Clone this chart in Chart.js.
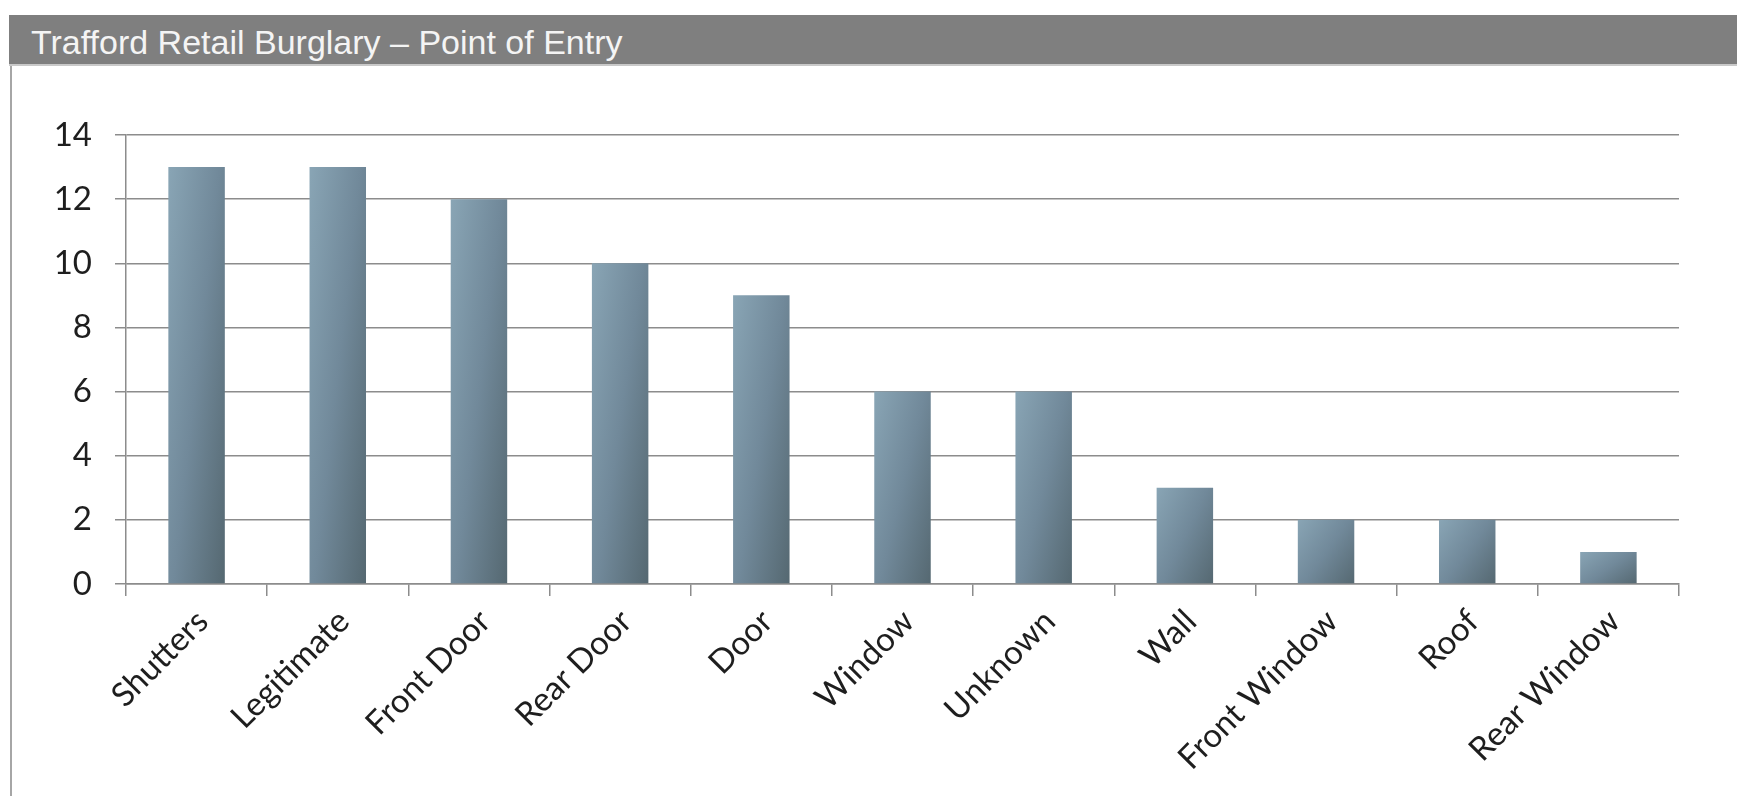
<!DOCTYPE html>
<html>
<head>
<meta charset="utf-8">
<script src="https://cdn.jsdelivr.net/npm/chart.js@4.4.0/dist/chart.umd.min.js"></script>
<style>
  html, body { margin: 0; padding: 0; background: #fff; }
  #wrap { position: relative; width: 1737px; height: 796px; overflow: hidden; }
  #titulo {
    position: absolute; left: 9px; top: 15px; right: 0; height: 51px;
    background: #7f7f7f; border-bottom: 2px solid #c9c9c9; box-sizing: border-box;
    color: #f4f4f4; font-family: "Liberation Sans", Arial, sans-serif; font-size: 34px;
    line-height: 54px; padding-left: 22px; white-space: nowrap;
  }
  #borda { position: absolute; left: 10px; top: 66px; width: 2px; bottom: 0; background: #a6a6a6; }
  #grafico { position: absolute; left: 0; top: 0; }
</style>
</head>
<body>
<div id="wrap">
  <div id="titulo">Trafford Retail Burglary – Point of Entry</div>
  <div id="borda"></div>
  <canvas id="grafico" width="1737" height="796"></canvas>
</div>
<script>
// dados do grafico
const categorias = ['Shutters', 'Legitimate', 'Front Door', 'Rear Door', 'Door', 'Window', 'Unknown', 'Wall', 'Front Window', 'Roof', 'Rear Window'];
const valores = [13, 13, 12, 10, 9, 6, 6, 3, 2, 2, 1];
const ticksY = [0, 2, 4, 6, 8, 10, 12, 14];

const corGrade = '#8c8c8c';
const fonteRotulo = { family: 'Lato, "Open Sans", sans-serif', size: 33 };

// gradiente de cada barra (claro em cima/esquerda, escuro embaixo/direita)
function corBarra(c) {
  const chart = c.chart;
  const xs = chart.scales.x, ys = chart.scales.y;
  if (!xs || !ys || c.dataIndex === undefined || !xs.width) return '#718996';
  const cx = xs.getPixelForValue(c.dataIndex);
  const w = (xs.width / categorias.length) * 0.4;
  const topo = ys.getPixelForValue(c.raw);
  const base = ys.getPixelForValue(0);
  const h = Math.max(base - topo, 1);
  const a = 0.55 / w, b = 0.45 / h;
  const k = 1 / (a * a + b * b);
  const x0 = cx - w / 2;
  const g = chart.ctx.createLinearGradient(x0, topo, x0 + a * k, topo + b * k);
  g.addColorStop(0, '#89a5b5');
  g.addColorStop(0.5, '#71899a');
  g.addColorStop(1, '#556871');
  return g;
}

new Chart(document.getElementById('grafico').getContext('2d'), {
  type: 'bar',
  data: {
    labels: categorias,
    datasets: [{
      data: valores,
      backgroundColor: corBarra,
      borderWidth: 0,
      barPercentage: 0.4,
      categoryPercentage: 1
    }]
  },
  options: {
    responsive: false,
    animation: false,
    events: [],
    layout: { padding: { left: 0, top: 135, right: 58, bottom: 0 } },
    plugins: { legend: { display: false }, tooltip: { enabled: false } },
    scales: {
      x: {
        grid: { drawOnChartArea: false, drawTicks: true, tickLength: 12, color: corGrade, lineWidth: 1.5, offset: true },
        border: { color: corGrade, width: 1.5 },
        ticks: {
          autoSkip: false, minRotation: 45, maxRotation: 45,
          font: fonteRotulo, color: '#1e1e1e', padding: 6, labelOffset: 6
        },
        afterFit: function (s) { s.height = 212; }
      },
      y: {
        min: 0, max: 14,
        afterBuildTicks: function (s) { s.ticks = ticksY.map(v => ({ value: v })); },
        grid: { color: corGrade, lineWidth: 1.5, tickLength: 11 },
        border: { color: corGrade, width: 1.5 },
        ticks: { font: fonteRotulo, color: '#1e1e1e', padding: 23 },
        afterFit: function (s) { s.width = 126; }
      }
    }
  }
});
</script>
</body>
</html>
